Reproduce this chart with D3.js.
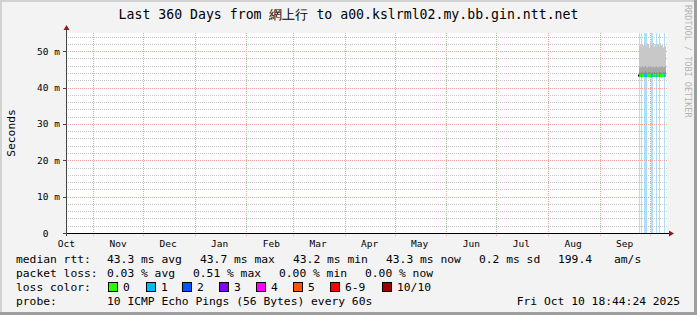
<!DOCTYPE html>
<html><head><meta charset="utf-8">
<script src="https://cdn.jsdelivr.net/npm/d3@7"></script>
<style>
body{margin:0;background:#f3f3f3}
svg{display:block}
text{font-family:"DejaVu Sans Mono",monospace;fill:#000}
</style>
</head><body>
<svg id="chart" width="697" height="315"></svg>
<script>
// ---------- data ----------
const titleText = "Last 360 Days from 網上行 to a00.kslrml02.my.bb.gin.ntt.net";
const yAxisTitle = "Seconds";
const rangeStart = "2024-10-15T18:44:24";
const rangeEnd = "2025-10-10T18:44:24";
const yMaxMs = 55;
const yMajorTicks = [0, 10, 20, 30, 40, 50];
const yMajorLabels = ["0\u00a0\u00a0", "10 m", "20 m", "30 m", "40 m", "50 m"];
const yMinorTicks = [2,4,6,8,12,14,16,18,22,24,26,28,32,34,36,38,42,44,46,48,52,54];
const monthGrid = ["2024-11-01","2024-12-01","2025-01-01","2025-02-01","2025-03-01","2025-04-01",
                   "2025-05-01","2025-06-01","2025-07-01","2025-08-01","2025-09-01","2025-10-01"];
const monthLabelDates = ["2024-10-16","2024-11-16","2024-12-16","2025-01-16","2025-02-16","2025-03-16",
                         "2025-04-16","2025-05-16","2025-06-16","2025-07-16","2025-08-16","2025-09-16"];
const monthLabels = ["Oct","Nov","Dec","Jan","Feb","Mar","Apr","May","Jun","Jul","Aug","Sep"];

// samples (one per 14.4 h consolidation step)
const sampleStart = "2025-09-23T23:30:00";
const sampleStepHours = 14.4;
const medianMs  = [43.3,43.4,43.3,43.2,43.3,43.3,43.4,43.3,43.2,43.3,43.3,43.4,43.3,43.2,
                   43.3,43.4,43.3,43.3,43.2,43.3,43.4,43.3,43.3,43.2,43.3,43.3,43.4,43.3];
const smokeLowMs  = [null,42.9,43.0,42.9,43.0,42.9,43.0,42.9,43.0,42.9,43.0,42.9,43.0,42.9,
                     43.0,42.9,43.0,42.9,43.0,42.9,43.0,42.9,43.0,42.9,43.0,42.9,43.0,42.9];
const smokeCoreMs = [null,44.2,44.0,44.3,44.1,44.0,44.2,44.4,44.1,44.0,44.2,44.3,44.1,44.0,
                     44.2,44.1,44.3,44.0,44.2,44.1,44.0,44.3,44.2,44.1,44.0,44.2,44.1,44.3];
const smokeMidMs  = [null,45.6,45.8,45.5,45.9,45.7,45.6,46.0,45.7,45.5,45.8,45.6,45.9,45.7,
                     45.5,45.8,45.6,45.7,45.9,45.5,45.6,45.8,45.7,45.6,45.9,45.5,45.7,45.8];
const smokeHighMs = [null,51.4,51.8,51.1,52.0,51.6,52.3,51.2,51.5,52.1,51.9,51.0,52.4,51.6,
                     51.8,52.2,51.3,51.9,51.1,52.0,51.7,51.2,52.2,51.6,51.9,51.0,51.8,51.4];
const lossCount = [-1,1,0,1,0,0,1,1,1,0,0,0,0,1,1,0,0,0,1,0,0,1,0,0,0,0,1,0];

const lossLabels = ["0","1","2","3","4","5","6-9","10/10"];
const lossColors = ["#26ff00","#00b8ff","#0059ff","#7e00ff","#ff00ff","#ff5500","#ff0000","#a10000"];
const lossBgColors = ["#ffffff","#a6e2ff","#a6c4ff","#d2a6ff","#ffa6ff","#ffc8a6","#ffa6a6","#e0a6a6"];

const rttLabel = "median rtt:";
const rttStats = ["43.3 ms avg","43.7 ms max","43.2 ms min","43.3 ms now","0.2 ms sd","199.4","am/s"];
const lossLabel = "packet loss:";
const lossStats = ["0.03 % avg","0.51 % max","0.00 % min","0.00 % now"];
const colorLabel = "loss color:";
const probeLabel = "probe:";
const probeText = "10 ICMP Echo Pings (56 Bytes) every 60s";
const stampText = "Fri Oct 10 18:44:24 2025";
const creditText = "RRDTOOL / TOBI OETIKER";

// ---------- layout ----------
const W = 697, H = 315;
const plot = {x0: 66, x1: 666, y0: 33, y1: 233};
const svg = d3.select("#chart");
const parse = d3.isoParse;

svg.append("rect").attr("width", W).attr("height", H).attr("fill", "#f3f3f3");
svg.append("rect").attr("x",0).attr("y",0).attr("width",W).attr("height",2).attr("fill","#d2d2d2");
svg.append("rect").attr("x",0).attr("y",0).attr("width",2).attr("height",H).attr("fill","#d2d2d2");
svg.append("rect").attr("x",0).attr("y",H-3).attr("width",W).attr("height",3).attr("fill","#9e9e9e");
svg.append("rect").attr("x",W-3).attr("y",0).attr("width",3).attr("height",H).attr("fill","#9e9e9e");

const x = d3.scaleTime().domain([parse(rangeStart), parse(rangeEnd)]).range([plot.x0, plot.x1]);
const y = d3.scaleLinear().domain([0, yMaxMs]).range([plot.y1, plot.y0]);
const px = v => Math.round(v) + 0.5;

svg.append("rect").attr("x", plot.x0).attr("y", plot.y0)
  .attr("width", plot.x1 - plot.x0 + 1).attr("height", plot.y1 - plot.y0).attr("fill", "#fff");

const stepMs = sampleStepHours * 3600 * 1000;
const samples = medianMs.map((m, i) => {
  const t0 = new Date(parse(sampleStart).getTime() + i * stepMs);
  const t1 = new Date(t0.getTime() + stepMs);
  return {t0, t1, med: m, lo: smokeLowMs[i], core: smokeCoreMs[i], mid: smokeMidMs[i], hi: smokeHighMs[i], loss: lossCount[i]};
});
const colX = d => Math.round(x(d.t0));
const colW = d => Math.max(1, Math.round(x(d.t1)) - Math.round(x(d.t0)));
const lossIdx = n => n <= 5 ? n : (n < 10 ? 6 : 7);

const g = svg.append("g");
g.selectAll("rect.lossbg").data(samples.filter(d => d.loss > 0)).join("rect").attr("class","lossbg")
  .attr("x", colX).attr("width", colW)
  .attr("y", plot.y0).attr("height", plot.y1 - plot.y0)
  .attr("fill", d => lossBgColors[lossIdx(d.loss)]);

const gg = svg.append("g");
gg.selectAll("line.ymin").data(yMinorTicks).join("line").attr("class","ymin")
  .attr("x1", plot.x0).attr("x2", plot.x1 + 2)
  .attr("y1", d => px(y(d))).attr("y2", d => px(y(d)))
  .attr("stroke", "#c4c4c4").attr("stroke-dasharray", "1,1");
gg.selectAll("line.ymaj").data(yMajorTicks.slice(1)).join("line").attr("class","ymaj")
  .attr("x1", plot.x0).attr("x2", plot.x1 + 2)
  .attr("y1", d => px(y(d))).attr("y2", d => px(y(d)))
  .attr("stroke", "#eaa4a4").attr("stroke-dasharray", "1,1");
gg.selectAll("line.xmaj").data(monthGrid.map(parse)).join("line").attr("class","xmaj")
  .attr("x1", d => px(x(d))).attr("x2", d => px(x(d)))
  .attr("y1", plot.y0).attr("y2", plot.y1 + 3)
  .attr("stroke", "#eaa4a4").attr("stroke-dasharray", "1,1");

const smoke = svg.append("g");
const layers = [["lo","hi","#c8c8c8"],["lo","mid","#a8a8a8"],["lo","core","#8e8e8e"]];
layers.forEach(([a, b, c]) => {
  smoke.selectAll(null).data(samples.filter(d => d[a] != null)).join("rect")
    .attr("x", colX).attr("width", colW)
    .attr("y", d => y(d[b])).attr("height", d => y(d[a]) - y(d[b]))
    .attr("fill", c);
});

smoke.selectAll("rect.med").data(samples).join("rect").attr("class","med")
  .attr("x", colX).attr("width", colW)
  .attr("y", d => y(d.med) - (d.loss < 0 ? 1 : 1.5)).attr("height", d => d.loss < 0 ? 2 : 3)
  .attr("fill", d => d.loss < 0 ? "#000" : lossColors[lossIdx(d.loss)]);

const ax = svg.append("g");
ax.append("line").attr("x1", plot.x0 - 3).attr("x2", plot.x1 + 4)
  .attr("y1", plot.y1 + 0.5).attr("y2", plot.y1 + 0.5).attr("stroke", "#000");
ax.append("line").attr("x1", plot.x0 + 0.5).attr("x2", plot.x0 + 0.5)
  .attr("y1", plot.y1 + 3).attr("y2", plot.y0 - 4).attr("stroke", "#444");
ax.append("path").attr("d", `M${plot.x1+3},${plot.y1-2.5} L${plot.x1+8},${plot.y1+0.5} L${plot.x1+3},${plot.y1+3.5}Z`)
  .attr("fill", "#8c1c1c");
ax.append("path").attr("d", `M${plot.x0-2.5},${plot.y0-3} L${plot.x0+0.5},${plot.y0-8} L${plot.x0+3.5},${plot.y0-3}Z`)
  .attr("fill", "#8c1c1c");
ax.selectAll("line.yt").data(yMajorTicks).join("line").attr("class","yt")
  .attr("x1", plot.x0 - 3).attr("x2", plot.x0)
  .attr("y1", d => px(y(d))).attr("y2", d => px(y(d))).attr("stroke", "#444");

ax.selectAll("text.yl").data(yMajorTicks).join("text").attr("class","yl")
  .attr("x", 60).attr("y", d => y(d) + 3.5)
  .attr("text-anchor", "end").style("font-size", "9.5px").style("white-space", "pre")
  .text((d, i) => yMajorLabels[i]);
ax.selectAll("text.xl").data(monthLabelDates.map(parse)).join("text").attr("class","xl")
  .attr("x", d => x(d)).attr("y", 247)
  .attr("text-anchor", "middle").style("font-size", "9.5px")
  .text((d, i) => monthLabels[i]);

svg.append("text").attr("x", 348.5).attr("y", 19).attr("text-anchor", "middle")
  .style("font-size", "13.2px").text(titleText);
svg.append("text").attr("transform", "translate(15,133) rotate(-90)").attr("text-anchor", "middle")
  .style("font-size", "11.3px").text(yAxisTitle);
svg.append("text").attr("transform", "translate(685,5) rotate(90)")
  .style("font-size", "8.5px").style("fill", "#b4b4b4").text(creditText);

const lg = svg.append("g").style("font-size", "11.3px");
const row = (yy, items) => items.forEach(([xx, t]) => lg.append("text").attr("x", xx).attr("y", yy).style("white-space","pre").text(t));
const rttX = [107, 200, 293, 386, 479, 558, 614];
row(263, [[16, rttLabel]].concat(rttStats.map((t, i) => [rttX[i], t])));
const lossX = [107, 193, 279, 365];
row(277, [[16, lossLabel]].concat(lossStats.map((t, i) => [lossX[i], t])));
row(291, [[16, colorLabel]]);
const boxX = [108, 146, 182, 219, 256, 293, 330, 382];
lossLabels.forEach((t, i) => {
  const bx = boxX[i];
  lg.append("rect").attr("x", bx + 0.5).attr("y", 282.5).attr("width", 9).attr("height", 9)
    .attr("fill", lossColors[i]).attr("stroke", "#000");
  lg.append("text").attr("x", bx + 15).attr("y", 291).text(t);
});
row(305, [[16, probeLabel], [107, probeText]]);
lg.append("text").attr("x", 680).attr("y", 305).attr("text-anchor", "end").text(stampText);
</script>
</body></html>
